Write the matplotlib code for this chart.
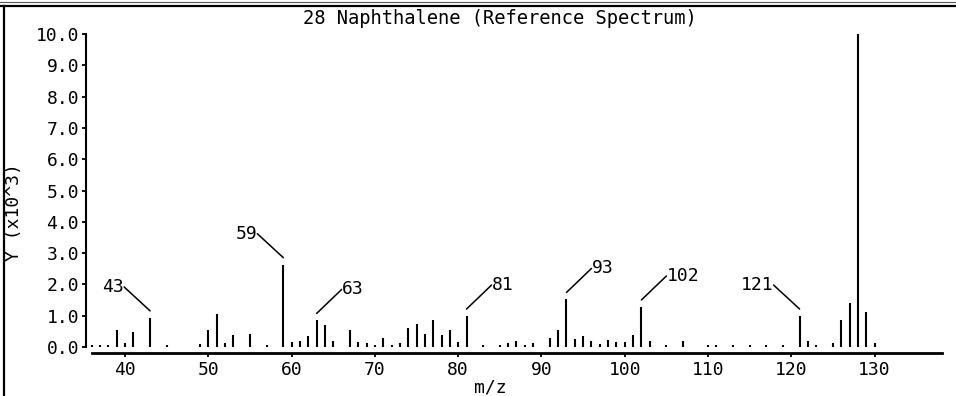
import matplotlib
matplotlib.use("Agg")
import matplotlib.pyplot as plt
from matplotlib.lines import Line2D
from matplotlib.transforms import offset_copy

# ---- data (m/z, intensity in units of 10^3) ----
mz = [36, 37, 38, 39, 40, 41, 43, 45, 49, 50, 51, 52, 53, 55, 57, 59, 60, 61,
      62, 63, 64, 65, 67, 68, 69, 70, 71, 72, 73, 74, 75, 76, 77, 78, 79, 80,
      81, 83, 85, 86, 87, 88, 89, 91, 92, 93, 94, 95, 96, 97, 98, 99, 100,
      101, 102, 103, 105, 107, 110, 111, 113, 115, 117, 119, 121, 122, 123,
      125, 126, 127, 128, 129, 130]
intensity = [0.07, 0.07, 0.07, 0.55, 0.12, 0.48, 0.93, 0.08, 0.10, 0.55, 1.05,
             0.13, 0.37, 0.42, 0.08, 2.63, 0.16, 0.18, 0.35, 0.85, 0.72, 0.18,
             0.53, 0.16, 0.14, 0.07, 0.29, 0.07, 0.14, 0.60, 0.74, 0.42, 0.85,
             0.39, 0.55, 0.16, 0.99, 0.07, 0.08, 0.14, 0.18, 0.07, 0.13, 0.30,
             0.55, 1.52, 0.27, 0.34, 0.18, 0.11, 0.22, 0.16, 0.16, 0.40, 1.28,
             0.18, 0.08, 0.20, 0.07, 0.07, 0.07, 0.07, 0.07, 0.07, 0.99, 0.18,
             0.08, 0.12, 0.87, 1.41, 10.0, 1.12, 0.12]
labeled_peaks = [43, 59, 63, 81, 93, 102, 121]
label_side = ['left', 'left', 'right', 'right', 'right', 'right', 'left']
xticks = [40, 50, 60, 70, 80, 90, 100, 110, 120, 130]
yticks = [0, 1, 2, 3, 4, 5, 6, 7, 8, 9, 10]
title = "28 Naphthalene (Reference Spectrum)"
xlabel = "m/z"
ylabel = "Y (x10^3)"

FONT = "DejaVu Sans Mono"
FS = 13

W, H = 956, 396
fig = plt.figure(figsize=(W / 100, H / 100), dpi=100)

# axes placement in pixels
L, R, T, B = 86, 942, 34, 353
ax = fig.add_axes([L / W, 1 - B / H, (R - L) / W, (B - T) / H])

ax.vlines(mz, 0, intensity, colors='black', linewidth=1.5)

ax.set_xlim(35.3, 138.1)
ax.set_ylim(-0.19, 10.0)

for s in ['top', 'right']:
    ax.spines[s].set_visible(False)
ax.spines['left'].set_bounds(0, 10)
ax.spines['left'].set_linewidth(1.5)
ax.spines['bottom'].set_bounds(36.0, 138.1)
ax.spines['bottom'].set_linewidth(2.0)

ax.set_xticks(xticks)
ax.set_xticklabels([str(t) for t in xticks], fontfamily=FONT, fontsize=FS)
ax.set_yticks(yticks)
ax.set_yticklabels(["%.1f" % t for t in yticks], fontfamily=FONT, fontsize=FS)
ax.tick_params(axis='x', direction='out', length=3, width=1.3, pad=2.5)
ax.tick_params(axis='y', direction='out', length=3, width=1.3, pad=2)

ax.set_xlabel(xlabel, fontfamily=FONT, fontsize=FS)
ax.xaxis.set_label_coords((490 - L) / (R - L), -(387 - B) / (B - T))
ax.xaxis.label.set_va('center')
ax.set_ylabel(ylabel, fontfamily=FONT, fontsize=FS)
ax.yaxis.set_label_coords((14 - L) / (R - L), (B - 212) / (B - T))
ax.yaxis.label.set_va('center')

# peak labels with leader lines (line ends ~7 px straight above the peak top)
anchor = offset_copy(ax.transData, fig=fig, x=0, y=7, units='dots')
for pk, side in zip(labeled_peaks, label_side):
    h = intensity[mz.index(pk)]
    if side == 'left':
        off, ha, rel = (-26 * 0.72, 24 * 0.72), 'right', (1, 0.5)
    else:
        off, ha, rel = (25 * 0.72, 24 * 0.72), 'left', (0, 0.5)
    ax.annotate(str(pk), xy=(pk, h), xycoords=anchor, xytext=off,
                textcoords='offset points',
                ha=ha, va='center', fontfamily=FONT, fontsize=FS,
                arrowprops=dict(arrowstyle='-', color='black', lw=1.1,
                                shrinkA=0, shrinkB=0, relpos=rel,
                                patchA=None))

fig.text(500 / W, 1 - 18 / H, title, ha='center', va='center',
         fontfamily=FONT, fontsize=FS + 0.5)

# frame lines of the original window
fig.add_artist(Line2D([0, 1], [1 - 1.5 / H, 1 - 1.5 / H], transform=fig.transFigure,
                      color='#555555', lw=0.8))
fig.add_artist(Line2D([0, 1], [1 - 5.5 / H, 1 - 5.5 / H], transform=fig.transFigure,
                      color='black', lw=1.6))
fig.add_artist(Line2D([3.5 / W, 3.5 / W], [0, 1 - 5.5 / H], transform=fig.transFigure,
                      color='black', lw=1.6))

fig.savefig("out.png", dpi=100)
